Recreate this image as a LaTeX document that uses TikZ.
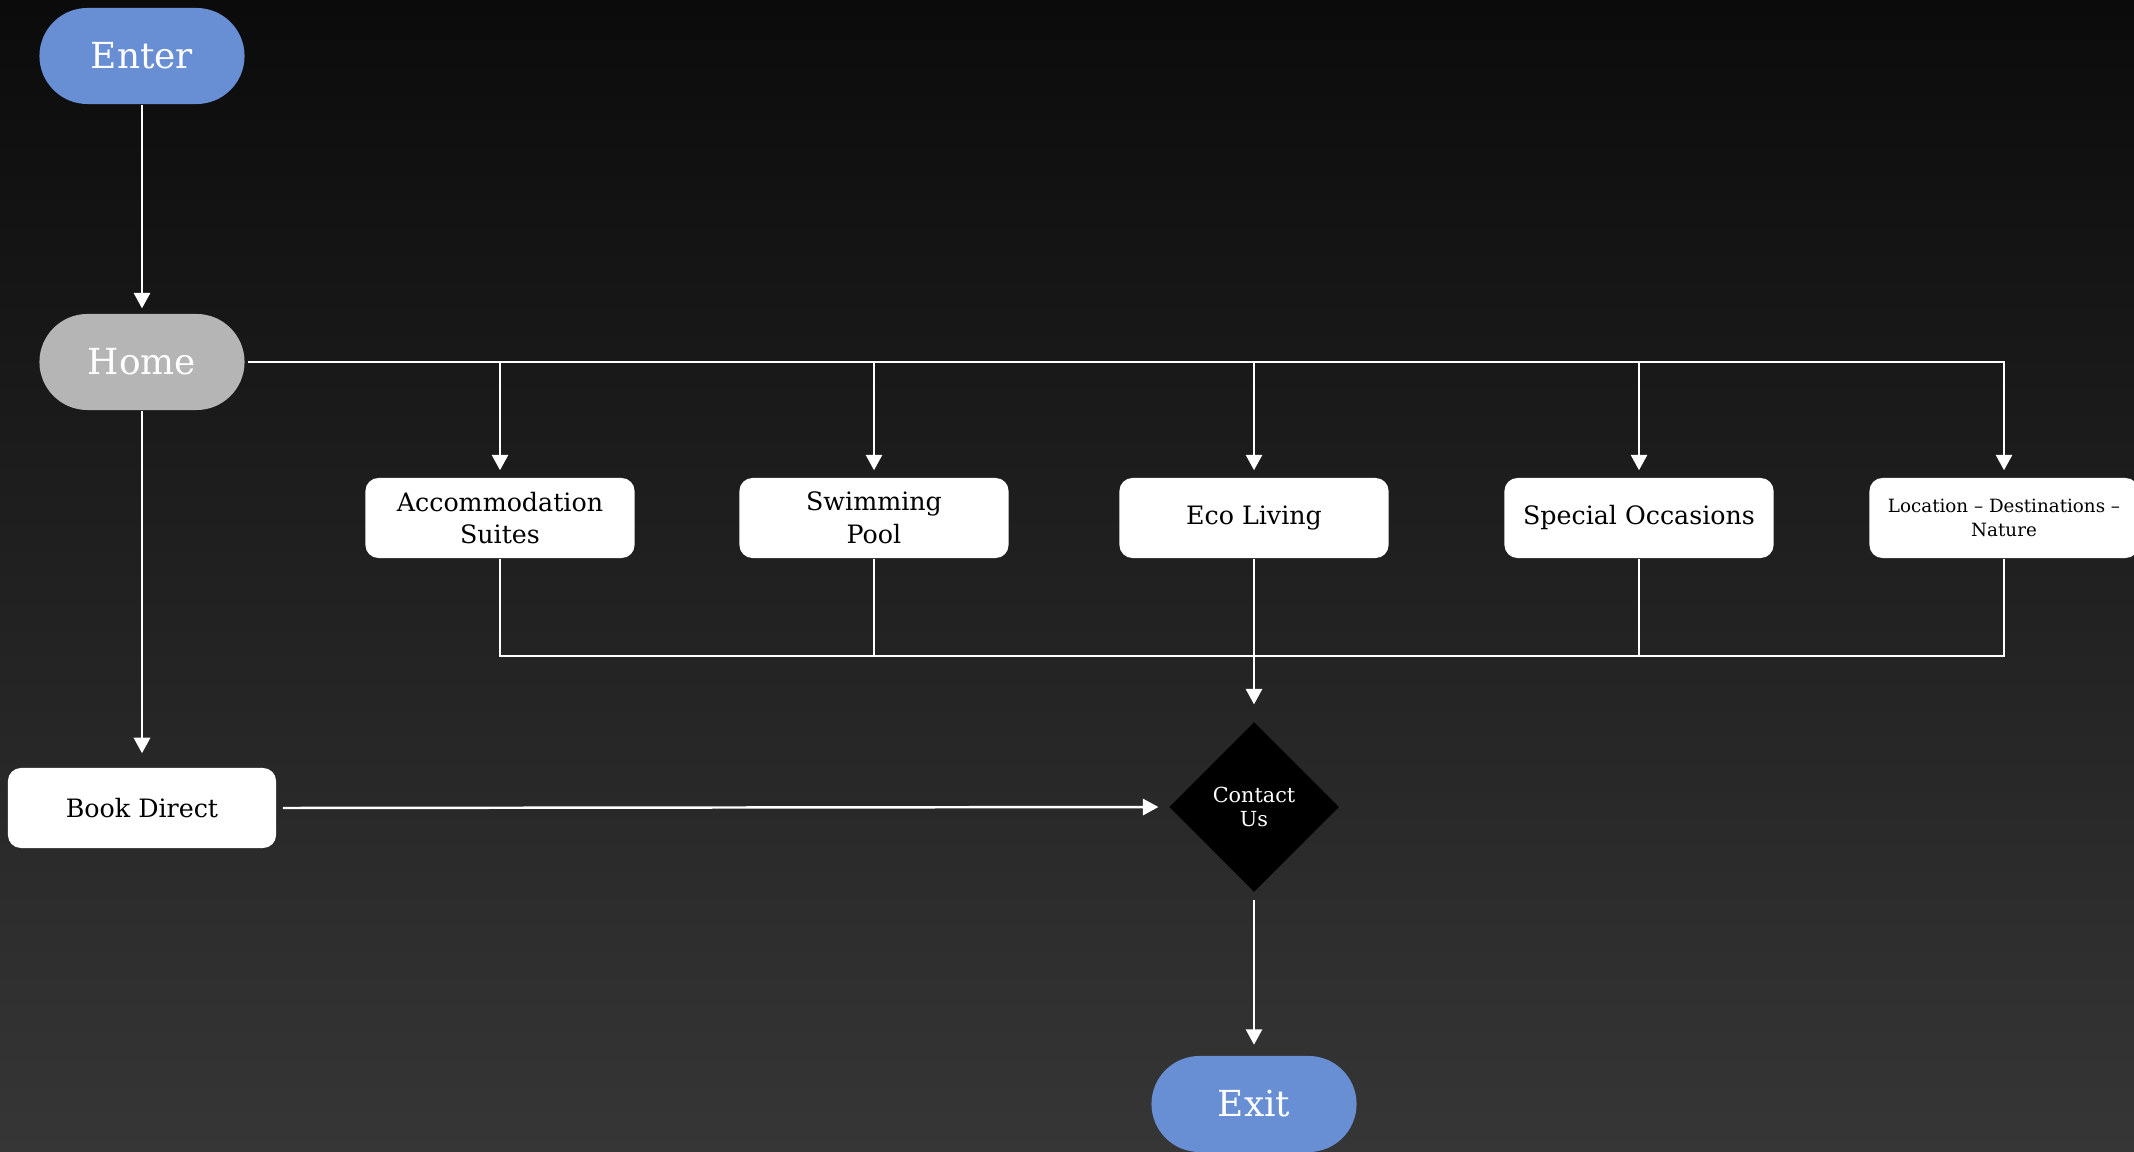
\documentclass[tikz,border=0pt]{standalone}
\usepackage{fontspec}
\setmainfont{DejaVu Serif}
\usetikzlibrary{arrows.meta,shapes.geometric}
\definecolor{termblue}{HTML}{688ED4}
\definecolor{homegrey}{HTML}{B5B5B5}
\definecolor{bgtop}{HTML}{0B0B0B}
\definecolor{bgbottom}{HTML}{363636}
\tikzset{
  terminal/.style={rectangle,rounded corners=0.48cm,minimum width=2.05cm,minimum height=0.96cm,
    inner sep=0pt,text=white,font=\fontsize{10.2}{12}\selectfont},
  pagebox/.style={rectangle,rounded corners=0.13cm,fill=white,minimum width=2.69cm,minimum height=0.8cm,
    inner sep=0pt,align=center,font=\fontsize{7.2}{9.3}\selectfont},
  link/.style={draw=white,line width=0.7pt},
  arr/.style={link,-{Triangle[width=4.6pt,length=4.4pt]}}
}
\begin{document}
\begin{tikzpicture}[x=0.01cm,y=-0.01cm]
        %% background
        \shade[top color=bgtop,bottom color=bgbottom] (0,0) rectangle (2134,1152);
        \useasboundingbox (0,0) rectangle (2134,1152);
        %% start, home and booking
        \node[terminal,fill=termblue] (enter) at (142,56) {Enter};
        \node[terminal,fill=homegrey] (home) at (142,362) {Home};
        \node[pagebox,minimum width=2.68cm] (book) at (142,808) {Book Direct};
        %% pages
        \node[pagebox] (acc) at (500,518) {Accommodation\\Suites};
        \node[pagebox] (pool) at (874,518) {Swimming\\Pool};
        \node[pagebox] (eco) at (1254,518) {Eco Living};
        \node[pagebox] (occ) at (1639,518) {Special Occasions};
        \node[pagebox,font=\fontsize{5.2}{6.6}\selectfont] (loc) at (2004,518) {Location -- Destinations --\\Nature};
        %% contact and exit
        \node[diamond,fill=black,minimum size=1.7cm,inner sep=0pt,align=center,text=white,
              font=\fontsize{5.9}{7}\selectfont] (contact) at (1254,807) {Contact\\Us};
        \node[terminal,fill=termblue] (exit) at (1254,1104) {Exit};
        %% connectors
        \draw[arr,shorten >=1.4pt] (enter) -- (home);
        \draw[arr,shorten <=0.9pt,shorten >=2pt] (home.east) -| (loc.north);
        \foreach \n in {acc,pool,eco,occ}
            \draw[arr,shorten >=2pt] (home.east -| \n.north) -- (\n.north);
        \coordinate (merge) at (1254,656);
        \foreach \n in {acc,pool,occ,loc}
            \draw[link] (\n.south) |- (merge);
        \draw[arr,shorten >=4.8pt] (eco.south) -- (contact.north);
        \draw[arr,shorten >=4pt] (home.south) -- (book.north);
        \draw[arr,shorten <=1.7pt,shorten >=2.8pt] (book.east) -- (contact.west);
        \draw[arr,shorten <=2pt,shorten >=3pt] (contact.south) -- (exit.north);
    \end{tikzpicture}
\end{document}
